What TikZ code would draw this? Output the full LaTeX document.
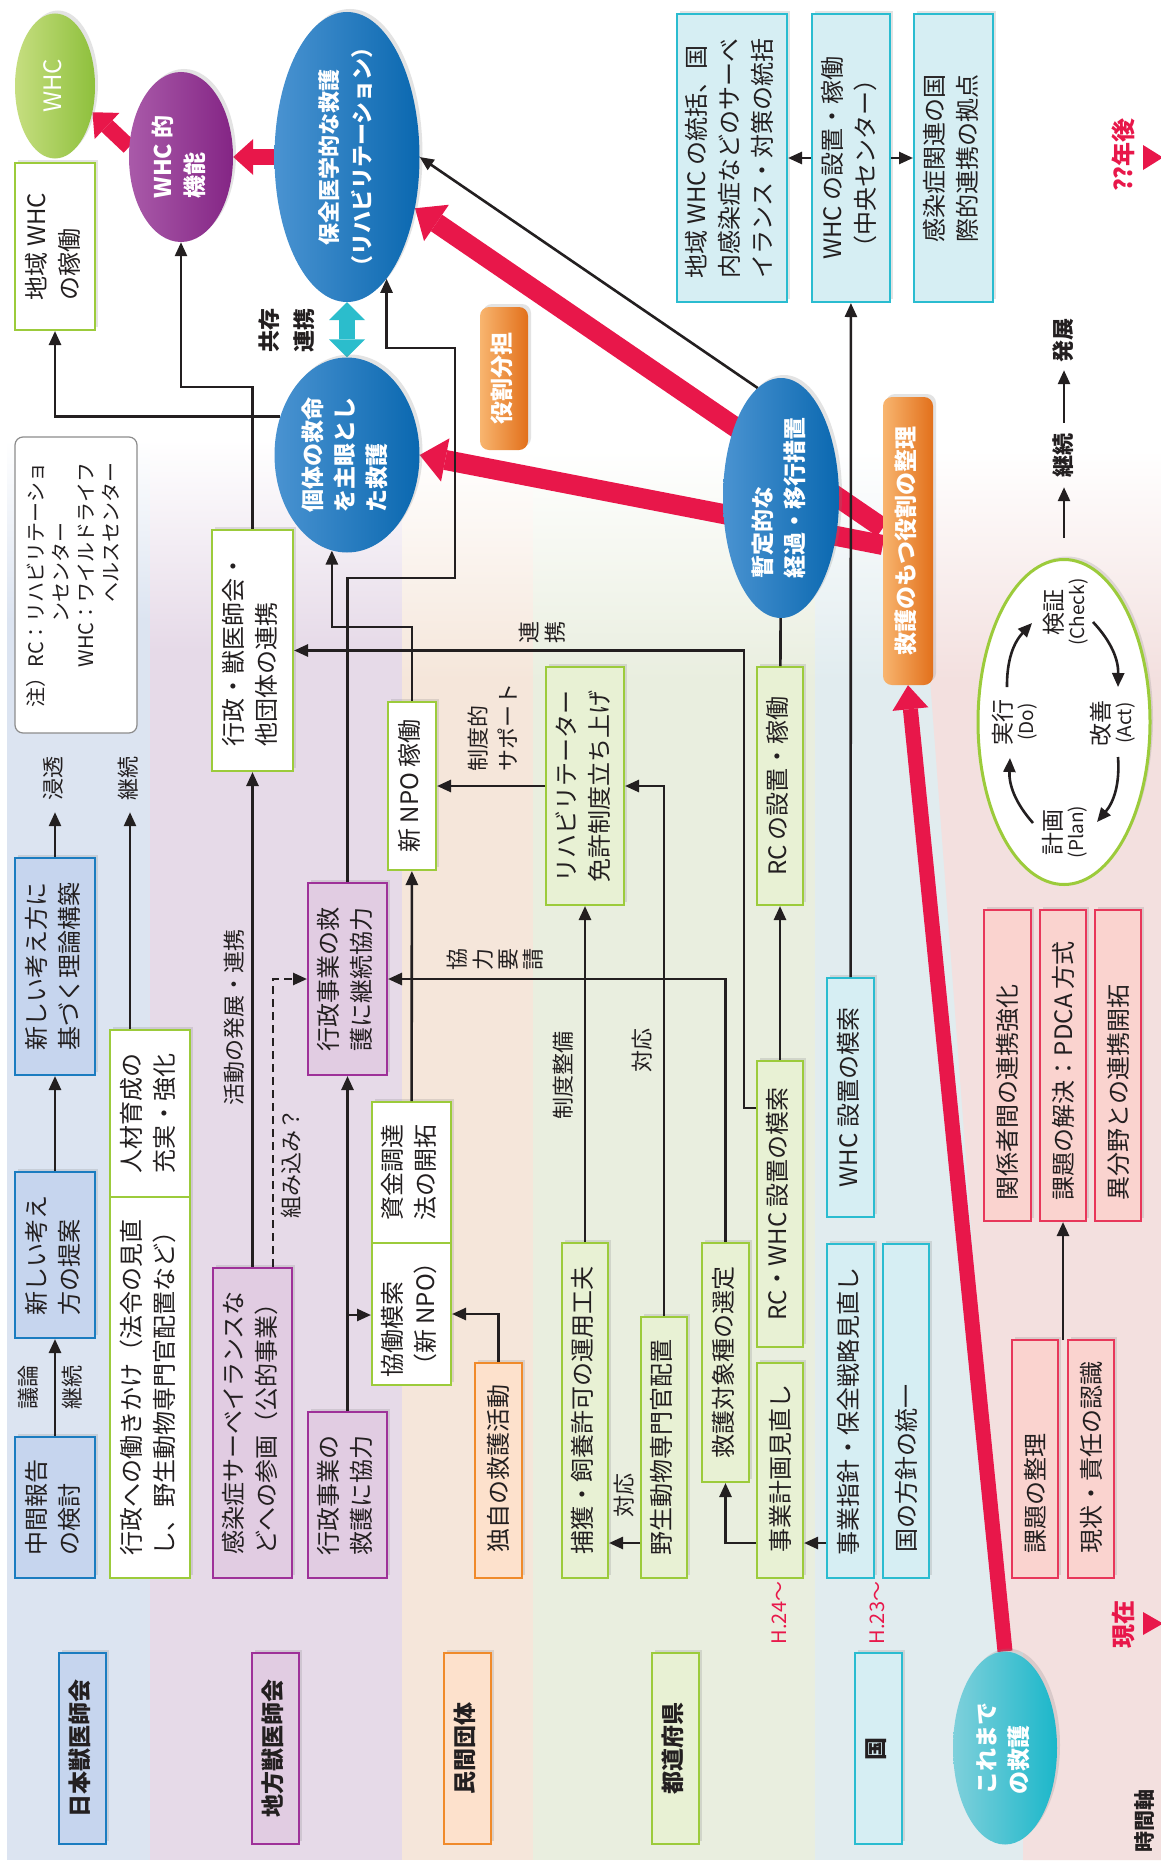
\documentclass[tikz,border=0pt]{standalone}
\usepackage{fontspec}
\setmainfont{Noto Sans CJK JP}
\usepackage{graphicx}
\usetikzlibrary{arrows.meta,shapes.geometric,shadows,calc}
\pgfdeclarelayer{back}
\pgfdeclarelayer{mid}
\pgfsetlayers{back,mid,main}

\definecolor{ink}{HTML}{231F20}
\definecolor{cRed}{HTML}{E8174A}
\definecolor{cBlueF}{HTML}{C6D5EE}
\definecolor{cBlueB}{HTML}{1B7CC0}
\definecolor{cPurpF}{HTML}{E1CCE2}
\definecolor{cPurpB}{HTML}{9E3199}
\definecolor{cGreenF}{HTML}{E8F1D4}
\definecolor{cGreenB}{HTML}{9CCB3B}
\definecolor{cOrF}{HTML}{FDE1CC}
\definecolor{cOrB}{HTML}{F08A2A}
\definecolor{cCyanF}{HTML}{D6EEF3}
\definecolor{cCyanB}{HTML}{2ABCD0}
\definecolor{cPinkF}{HTML}{FAD3CF}
\definecolor{cPinkB}{HTML}{E8375A}
\definecolor{bgA}{HTML}{DCE4F1}
\definecolor{bgB}{HTML}{E6DAE8}
\definecolor{bgC}{HTML}{F5E6DA}
\definecolor{bgD}{HTML}{E9EEDF}
\definecolor{bgE}{HTML}{E1ECEF}
\definecolor{bgF}{HTML}{F3E0DF}
\definecolor{eBlL}{HTML}{4A93D1}
\definecolor{eBlR}{HTML}{0A68B0}
\definecolor{eGrL}{HTML}{C6DE80}
\definecolor{eGrR}{HTML}{8EC03C}
\definecolor{ePuL}{HTML}{A95AA9}
\definecolor{ePuR}{HTML}{842585}
\definecolor{eCyL}{HTML}{7FD0DB}
\definecolor{eCyR}{HTML}{1BB7CA}
\definecolor{oL}{HTML}{F8B56F}
\definecolor{oR}{HTML}{E2701B}
\definecolor{cCyArr}{HTML}{2BBDCC}

\newcommand{\rt}[2][l]{\rotatebox{90}{\begin{tabular}{@{}#1@{}}#2\end{tabular}}}
\newcommand{\rb}[2]{\rotatebox{90}{\makebox[#1pt][l]{#2}}}
\newcommand{\fsA}{\fontsize{24pt}{33pt}\selectfont}
\newcommand{\fsB}{\fontsize{23pt}{30pt}\selectfont\bfseries}
\newcommand{\fsE}{\fontsize{23pt}{32pt}\selectfont\bfseries}
\newcommand{\fsL}{\fontsize{22pt}{30pt}\selectfont}
\newcommand{\fsLB}{\fontsize{22pt}{35pt}\selectfont\bfseries}
\newcommand{\fsS}{\fontsize{22pt}{24pt}\selectfont}
\newcommand{\fsN}{\fontsize{20pt}{25pt}\selectfont}
\newcommand{\fsR}{\fontsize{20pt}{24pt}\selectfont}
\newcommand{\fsRB}{\fontsize{24pt}{28pt}\selectfont\bfseries}
\newcommand{\fsP}{\fontsize{23pt}{22pt}\selectfont}
\newcommand{\fsPs}{\fontsize{19pt}{22pt}\selectfont}

\begin{document}
\begin{tikzpicture}[x=1pt,y=-1pt,
  bx/.style={draw,line width=2pt,inner sep=0pt,font=\fsA,text=ink,drop shadow={opacity=0.22,shadow xshift=3pt,shadow yshift=3pt}},
  sz/.style 2 args={minimum width=#1pt,minimum height=#2pt},
  bluebox/.style={bx,draw=cBlueB,fill=cBlueF},
  purpbox/.style={bx,draw=cPurpB,fill=cPurpF},
  whitebox/.style={bx,draw=cGreenB,fill=white},
  greenbox/.style={bx,draw=cGreenB,fill=cGreenF},
  orbox/.style={bx,draw=cOrB,fill=cOrF},
  cyanbox/.style={bx,draw=cCyanB,fill=cCyanF},
  pinkbox/.style={bx,draw=cPinkB,fill=cPinkF},
  rowlab/.style={font=\fsB},
  ell/.style={ellipse,inner sep=0pt,font=\fsE,text=white,drop shadow={opacity=0.22,shadow xshift=3pt,shadow yshift=3pt}},
  etext/.style={inner sep=0pt,font=\fsE,text=white},
  orng/.style={rectangle,rounded corners=9pt,inner sep=0pt,left color=oL,right color=oR,font=\fsE,text=white,drop shadow={opacity=0.22,shadow xshift=3pt,shadow yshift=3pt}},
  notebox/.style={draw=black!45,line width=1.2pt,rounded corners=8pt,fill=white,inner sep=0pt,font=\fsN,text=ink},
  lbl/.style={inner sep=0pt,font=\fsL,text=ink},
  lblb/.style={inner sep=0pt,font=\fsLB,text=ink},
  stk/.style={inner sep=0pt,font=\fsS,text=ink},
  redlbl/.style={inner sep=0pt,font=\fsR,text=cRed},
  redbold/.style={inner sep=0pt,font=\fsRB,text=cRed},
  pd/.style={inner sep=0pt,font=\fsP,text=ink},
  arr/.style={draw=ink,line width=2.6pt,-{Triangle[length=14pt,width=12pt]}},
  conn/.style={draw=ink,line width=2.6pt},
  redA/.style={draw=cRed,line width=20pt,-{Triangle[length=26pt,width=44pt,line width=0pt]}},
  redB/.style={draw=cRed,line width=15pt,-{Triangle[length=24pt,width=36pt,line width=0pt]}},
  redC/.style={draw=cRed,line width=16pt,-{Triangle[length=20pt,width=36pt,line width=0pt]}},
  cyarr/.style={draw=cCyArr,line width=16pt,{Triangle[length=18pt,width=36pt,line width=0pt]}-{Triangle[length=18pt,width=36pt,line width=0pt]}}
]
\useasboundingbox (0,0) rectangle (1161,1865);

% ---------------- backgrounds ----------------
\begin{pgfonlayer}{back}
\fill[white] (0,0) rectangle (1161,1865);
\shade[top color=white,bottom color=bgA] (7,440) rectangle (150,620);
\fill[bgA] (7,619) rectangle (150,1860);
\shade[top color=white,bottom color=bgB] (150,440) rectangle (402,650);
\fill[bgB] (150,649) rectangle (402,1860);
\shade[top color=white,bottom color=bgC] (402,450) rectangle (533,680);
\fill[bgC] (402,679) rectangle (533,1860);
\shade[top color=white,bottom color=bgD] (533,450) rectangle (815,680);
\fill[bgD] (533,679) rectangle (815,1860);
\shade[top color=white,bottom color=bgE] (815,450) rectangle (1161,680);
\fill[bgE] (815,679) rectangle (1161,1860);
\shade[top color=white,bottom color=bgF] (930,450) rectangle (1161,680);
\fill[bgF] (930,679) -- (1161,679) -- (1161,1860) -- (1023,1860) -- (1023,1652) -- (1003,1652) -- cycle;
\end{pgfonlayer}

% ---------------- helper coordinates ----------------
\coordinate (y387) at (0,387);
\coordinate (y348) at (0,348);
\coordinate (y578) at (0,578);
\coordinate (y627) at (0,627);
\coordinate (y1108) at (0,1108);
\coordinate (y1543) at (0,1543);
\coordinate (y1315) at (0,1315);
\coordinate (y528) at (0,528);
\coordinate (y545) at (0,545);
\coordinate (x130) at (130,0);
\coordinate (x273) at (273,0);
\coordinate (x455) at (455,0);
\coordinate (x744) at (744,0);

% ---------------- row labels ----------------
\node[bluebox,rowlab,sz={47}{191}] (lab1) at (82.5,1748.5) {\rt{日本獣医師会}};
\node[purpbox,rowlab,sz={47}{191}] (lab2) at (275.5,1748.5) {\rt{地方獣医師会}};
\node[orbox,rowlab,sz={47}{191}] (lab3) at (467.5,1748.5) {\rt{民間団体}};
\node[greenbox,rowlab,sz={47}{191}] (lab4) at (675,1748.5) {\rt{都道府県}};
\node[cyanbox,rowlab,sz={47}{191}] (lab5) at (878.5,1748.5) {\rt{国}};
\node[ell,sz={104}{193},left color=eCyL,right color=eCyR] (kore) at (1005,1748) {\rt{これまで\\の救護}};

% ---------------- top ellipses ----------------
\node[ell,sz={80}{145},left color=eGrL,right color=eGrR,font=\fontsize{24pt}{30pt}\selectfont] (whc) at (55,86) {\rt{WHC}};
\node[whitebox,sz={80}{167}] (chiiki) at (55,246.5) {\rt{地域 WHC\\の稼働}};
\node[ell,sz={104}{170},left color=ePuL,right color=ePuR] (kino) at (181,157) {\rt{WHC 的\\機能}};
\node[ell,sz={145}{290},left color=eBlL,right color=eBlR] (hozen) at (347,157) {};
\node[etext,font=\fontsize{22pt}{33pt}\selectfont\bfseries] (hozenT) at (hozen) {\rt[c]{保全医学的な救護\\（リハビリテーション）}};
\node[ell,sz={145}{195},left color=eBlL,right color=eBlR] (kotai) at (347,455) {\rt{個体の救命\\を主眼とし\\た救護}};
\node[orng,sz={48}{143}] (yakuwari) at (504,378.5) {\rt{役割分担}};
\node[orng,sz={50}{288}] (seiri) at (908,541) {\rt{救護のもつ役割の整理}};

% ---------------- top cyan boxes ----------------
\node[cyanbox,sz={110}{288}] (t1) at (732,158) {\rt{地域 WHC の統括、国\\内感染症などのサーベ\\イランス・対策の統括}};
\node[cyanbox,sz={78}{288}] (t2) at (851,158) {\rt{WHC の設置・稼働\\（中央センター）}};
\node[cyanbox,sz={79}{288}] (t3) at (953.5,158) {\rt{感染症関連の国\\際的連携の拠点}};

% ---------------- band 1 ----------------
\node[bluebox,sz={80}{141}] (chukan) at (55,1507.5) {\rt{中間報告\\の検討}};
\node[bluebox,sz={80}{166}] (teian) at (55,1255) {\rt{新しい考え\\方の提案}};
\node[bluebox,sz={80}{217}] (riron) at (55,966.5) {\rt{新しい考え方に\\基づく理論構築}};
\node[whitebox,sz={80}{381}] (hatara) at (150,1387.5) {\rt{行政への働きかけ（法令の見直\\し、野生動物専門官配置など）}};
\node[whitebox,sz={80}{167}] (jinzai) at (150,1113.5) {\rt{人材育成の\\充実・強化}};
\node[notebox,sz={122}{296}] (note) at (76,585) {\rt{注）RC：リハビリテーショ\\\phantom{注）RC：}ンセンター\\\phantom{注）}WHC：ワイルドライフ\\\phantom{注）WHC：}ヘルスセンター}};

% ---------------- band 2 ----------------
\node[purpbox,sz={79}{310}] (kansen) at (252.5,1423) {\rt{感染症サーベイランスな\\どへの参画（公的事業）}};
\node[purpbox,sz={79}{166}] (kyoryoku) at (347.5,1495) {\rt{行政事業の\\救護に協力}};
\node[purpbox,sz={79}{192}] (keizoku) at (347.5,979) {\rt{行政事業の救\\護に継続協力}};
\node[whitebox,sz={81}{241}] (renkei) at (252.5,650.5) {\rt{行政・獣医師会・\\他団体の連携}};

% ---------------- band 3 ----------------
\node[orbox,sz={47}{215}] (dokuji) at (498.5,1470.5) {\rb{163}{独自の救護活動}};
\node[whitebox,sz={79}{142}] (kyodo) at (411.5,1314) {\rt{協働模索\\（新 NPO）}};
\node[whitebox,sz={79}{141}] (shikin) at (411.5,1172.5) {\rt{資金調達\\法の開拓}};
\node[whitebox,sz={48}{168}] (npo) at (412,786) {\rt{新 NPO 稼働}};

% ---------------- band 4 ----------------
\node[greenbox,sz={78}{238}] (rehab) at (585,786) {\rt{リハビリテーター\\免許制度立ち上げ}};
\node[greenbox,sz={46}{335}] (hokaku) at (585,1410.5) {\rt{捕獲・飼養許可の運用工夫}};
\node[greenbox,sz={46}{261}] (yasei) at (664,1447.5) {\rt{野生動物専門官配置}};
\node[greenbox,sz={47}{239}] (kyugo) at (725.5,1362.5) {\rt{救護対象種の選定}};
\node[greenbox,sz={46}{215}] (jigyo) at (780,1470.5) {\rb{163}{事業計画見直し}};
\node[greenbox,sz={46}{286}] (rcwhc) at (780,1204) {\rt{RC・WHC 設置の模索}};
\node[greenbox,sz={46}{238}] (rc) at (780,786) {\rt{RC の設置・稼働}};
\node[ell,sz={116}{240},left color=eBlL,right color=eBlR] (zantei) at (781,498) {\rt{暫定的な\\経過・移行措置}};

% ---------------- band 5 ----------------
\node[cyanbox,sz={47}{239}] (whcmo) at (850.5,1097.5) {\rt{WHC 設置の模索}};
\node[cyanbox,sz={47}{334}] (shishin) at (850.5,1411) {\rt{事業指針・保全戦略見直し}};
\node[cyanbox,sz={46}{334}] (hoshin) at (906,1411) {\rb{282}{国の方針の統一}};

% ---------------- pink ----------------
\node[pinkbox,sz={47}{311}] (p1) at (1007.5,1065.5) {\rb{269}{関係者間の連携強化}};
\node[pinkbox,sz={46}{311}] (p2) at (1063,1065.5) {\rb{269}{課題の解決：PDCA 方式}};
\node[pinkbox,sz={46}{311}] (p3) at (1118,1065.5) {\rb{269}{異分野との連携開拓}};
\node[pinkbox,sz={46}{238}] (p4) at (1035,1459) {\rb{188}{課題の整理}};
\node[pinkbox,sz={46}{238}] (p5) at (1091,1459) {\rb{188}{現状・責任の認識}};
\coordinate (pk) at (1063,1340);

% PDCA
\node[ellipse,draw=cGreenB,line width=3pt,fill=white,sz={172}{325},drop shadow={opacity=0.22,shadow xshift=3pt,shadow yshift=3pt}] (pdca) at (1064,722) {};
\node[pd] (check) at (1067,612) {\rt[c]{検証\\{\fsPs (Check)}}};
\node[pd] (do) at (1016,722) {\rt[c]{実行\\{\fsPs (Do)}}};
\node[pd] (act) at (1114,723) {\rt[c]{改善\\{\fsPs (Act)}}};
\node[pd] (plan) at (1066,832) {\rt[c]{計画\\{\fsPs (Plan)}}};

% ---------------- free labels ----------------
\node[lbl] (lgiron) at (30,1387) {\rt{議論}};
\node[lbl] (lkei1) at (74,1387) {\rt{継続}};
\node[lbl] (lshinto) at (55,778) {\rt{浸透}};
\node[lbl] (lkei2) at (130,778) {\rt{継続}};
\node[lbl] (lkatsu) at (236,1017) {\rt{活動の発展・連携}};
\node[lbl] (lkumi) at (293,1163) {\rt{組み込み？}};
\node[stk] (lkyo) at (498,959) {\rt[c]{協\\力\\要\\請}};
\node[stk] (lren) at (545,632) {\rt[c]{連\\携}};
\node[lbl] (lseido) at (495,727) {\rt{制度的\\サポート}};
\node[lbl] (ltaio1) at (644,1050) {\rt{対応}};
\node[lbl] (lseibi) at (565,1075) {\rt{制度整備}};
\node[lbl] (ltaio2) at (626,1495) {\rt{対応}};
\node[lblb] (lkyozon) at (288,330) {\rt{共存\\連携}};
\node[lblb] (lkei3) at (1064,455) {\rt{継続}};
\node[lblb] (lhatten) at (1064,340) {\rt{発展}};
\node[redlbl] (h24) at (782,1613) {\rt{H.24～}};
\node[redlbl] (h23) at (880,1613) {\rt{H.23～}};
\node[redbold] (genzai) at (1126,1624) {\rt{現在}};
\node[redbold] (nengo) at (1126,155) {\rt{??年後}};
\node[inner sep=0pt,font=\fontsize{21pt}{24pt}\selectfont\bfseries,text=ink] (jikan) at (1147,1821) {\rt{時間軸}};
\fill[cRed] (1143,1612) -- (1163,1623.5) -- (1143,1635) -- cycle;
\fill[cRed] (1143,145) -- (1163,157.5) -- (1143,170) -- cycle;

% ---------------- black connectors ----------------
\draw[arr] (chukan) -- (teian);
\draw[arr] (teian) -- (riron);
\draw[arr,shorten >=12pt] (riron.north) -- (lshinto.south);
\draw[arr,shorten >=12pt] (x130 |- jinzai.north) -- (lkei2.south);
\draw[arr] (kansen) -- (renkei);
\draw[arr,dash pattern=on 8pt off 5pt] (x273 |- kansen.north) |- (keizoku.west);
\draw[arr] (kyoryoku) -- (keizoku);
\draw[arr] (kyoryoku.north |- y1315) -- (kyodo.west |- y1315);
\draw[arr] (renkei.north) |- (kino.south |- y387) -- (kino.south);
\draw[arr] (kotai.150) -| (chiiki.south);
\draw[arr] (npo.north) |- (kotai.261 |- y627) -- (kotai.261);
\draw[arr] (keizoku.north) |- (x455 |- y578) |- (hozen.288 |- y348) -- (hozen.288);
\draw[arr] (shikin) -- (npo);
\draw[arr] (dokuji.north) |- (kyodo.east);
\draw[arr] (rehab) -- (npo);
\draw[arr] (yasei.north) |- (rehab.east);
\draw[arr] (hokaku) -- (rehab);
\draw[arr] (yasei.west |- y1543) -- (hokaku.east |- y1543);
\draw[arr] (jigyo.west |- y1543) -| (kyugo.south);
\draw[arr] (kyugo.north) |- (keizoku.east);
\draw[arr] (rcwhc.west |- y1108) -- (x744 |- y1108) |- (renkei.east);
\draw[arr] (rcwhc) -- (rc);
\draw[conn] (zantei) -- (rc);
\draw[arr] (shishin.west |- y1543) -- (jigyo.east |- y1543);
\draw[arr] (whcmo) -- (t2);
\draw[arr] (t2) -- (t1);
\draw[arr] (t2) -- (t3);
\draw[arr] (zantei.102) -- (hozen.east);
\draw[arr] (pk) -- (p2);
\draw[arr,shorten <=20pt,shorten >=10pt] (pdca.north -| lkei3) -- (lkei3.south);
\draw[arr,shorten <=10pt,shorten >=8pt] (lkei3.north) -- (lhatten.south);
\draw[arr] ($(pdca)+(-31,101)$) to[bend left=22] ($(pdca)+(-54,36)$);
\draw[arr] ($(pdca)+(-57,-35)$) to[bend left=22] ($(pdca)+(-32,-99)$);
\draw[arr] ($(pdca)+(29,-100)$) to[bend left=22] ($(pdca)+(54,-35)$);
\draw[arr] ($(pdca)+(54,35)$) to[bend left=22] ($(pdca)+(33,100)$);

% ---------------- thick coloured arrows ----------------
\begin{pgfonlayer}{mid}
\draw[redC] (kino.169) -- (whc.325);
\draw[redC] (hozen.west) -- (kino.east);
\draw[redA] (seiri.west |- y528) -- (hozen.323);
\draw[redA] (seiri.west |- y545) -- (kotai.east);
\draw[redB] (kore.north) -- (seiri.south);
\draw[cyarr] (hozen.south) -- (kotai.north);
\end{pgfonlayer}
\end{tikzpicture}
\end{document}
